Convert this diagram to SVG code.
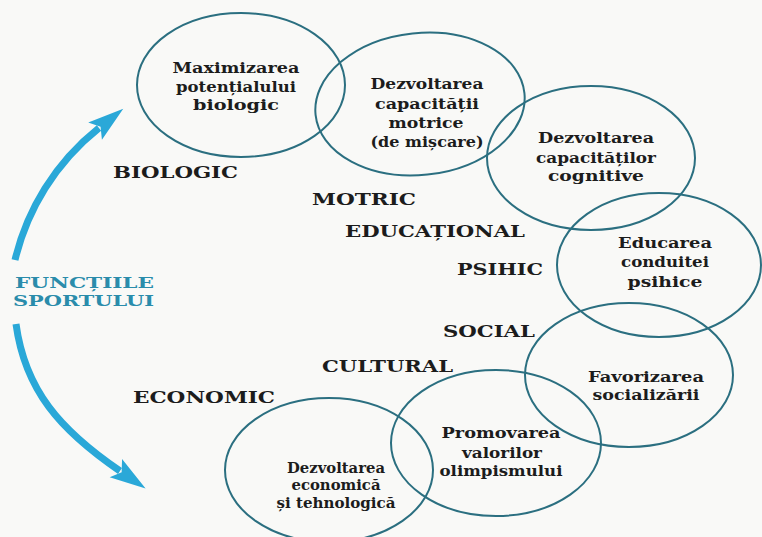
<svg xmlns="http://www.w3.org/2000/svg" width="762" height="537" viewBox="0 0 762 537">
<style>
.ell{fill:none;stroke:#2b6f80;stroke-width:2}
.t{font-family:"DejaVu Serif","Liberation Serif",serif;font-weight:bold;font-size:15px;fill:#1c1c1c;text-anchor:middle}
.lab{font-family:"DejaVu Serif","Liberation Serif",serif;font-weight:bold;font-size:16px;fill:#1c1c1c}
.title{font-family:"DejaVu Serif","Liberation Serif",serif;font-weight:bold;font-size:15px;fill:#2a8cab}
.arr{fill:none;stroke:#2aa8d8;stroke-width:7}
</style>
<defs>
<marker id="head" markerUnits="userSpaceOnUse" markerWidth="40" markerHeight="26" viewBox="-2 -13 40 26" refX="5" refY="0" orient="auto">
<path d="M0,-11 L36,0 L0,11 L7,0 z" fill="#2aa8d8"/>
</marker>
</defs>
<rect width="762" height="537" fill="#f9f9f7"/>

<g id="connectors">
<path class="arr" d="M15,260 C27,210 55,163 99,128" marker-end="url(#head)"/>
<path class="arr" d="M16,324 C25,390 60,430 120,471" marker-end="url(#head)"/>
</g>

<g id="title">
<text class="title" x="15" y="288" textLength="139" lengthAdjust="spacingAndGlyphs">FUNCȚIILE</text>
<text class="title" x="13" y="306" textLength="141" lengthAdjust="spacingAndGlyphs">SPORTULUI</text>
</g>

<g id="labels">
<text class="lab" x="113" y="178" textLength="125" lengthAdjust="spacingAndGlyphs">BIOLOGIC</text>
<text class="lab" x="312" y="205" textLength="104" lengthAdjust="spacingAndGlyphs">MOTRIC</text>
<text class="lab" x="345" y="237" textLength="180" lengthAdjust="spacingAndGlyphs">EDUCAȚIONAL</text>
<text class="lab" x="457" y="275" textLength="86" lengthAdjust="spacingAndGlyphs">PSIHIC</text>
<text class="lab" x="443" y="337" textLength="92" lengthAdjust="spacingAndGlyphs">SOCIAL</text>
<text class="lab" x="322" y="372" textLength="131" lengthAdjust="spacingAndGlyphs">CULTURAL</text>
<text class="lab" x="133" y="403" textLength="142" lengthAdjust="spacingAndGlyphs">ECONOMIC</text>
</g>

<g id="n1">
<ellipse class="ell" cx="241" cy="85" rx="104" ry="72"/>
<text class="t" x="236" y="73" textLength="127" lengthAdjust="spacingAndGlyphs">Maximizarea</text>
<text class="t" x="236" y="92" textLength="120" lengthAdjust="spacingAndGlyphs">potențialului</text>
<text class="t" x="236" y="110" textLength="86" lengthAdjust="spacingAndGlyphs">biologic</text>
</g>

<g id="n2">
<ellipse class="ell" cx="420" cy="104" rx="105" ry="71" transform="rotate(-6 420 104)"/>
<text class="t" x="427" y="89" textLength="113" lengthAdjust="spacingAndGlyphs">Dezvoltarea</text>
<text class="t" x="427" y="109" textLength="104" lengthAdjust="spacingAndGlyphs">capacității</text>
<text class="t" x="426" y="128" textLength="75" lengthAdjust="spacingAndGlyphs">motrice</text>
<text class="t" x="427" y="147" textLength="113" lengthAdjust="spacingAndGlyphs">(de mișcare)</text>
</g>

<g id="n3">
<ellipse class="ell" cx="591" cy="158" rx="104" ry="72"/>
<text class="t" x="596" y="143" textLength="116" lengthAdjust="spacingAndGlyphs">Dezvoltarea</text>
<text class="t" x="596" y="163" textLength="120" lengthAdjust="spacingAndGlyphs">capacităților</text>
<text class="t" x="596" y="181" textLength="96" lengthAdjust="spacingAndGlyphs">cognitive</text>
</g>

<g id="n4">
<ellipse class="ell" cx="659" cy="265" rx="102" ry="72"/>
<text class="t" x="665" y="248" textLength="94" lengthAdjust="spacingAndGlyphs">Educarea</text>
<text class="t" x="665" y="267" textLength="88" lengthAdjust="spacingAndGlyphs">conduitei</text>
<text class="t" x="665" y="287" textLength="75" lengthAdjust="spacingAndGlyphs">psihice</text>
</g>

<g id="n5">
<ellipse class="ell" cx="629" cy="375" rx="104" ry="72"/>
<text class="t" x="646" y="382" textLength="116" lengthAdjust="spacingAndGlyphs">Favorizarea</text>
<text class="t" x="646" y="400" textLength="107" lengthAdjust="spacingAndGlyphs">socializării</text>
</g>

<g id="n6">
<ellipse class="ell" cx="496" cy="443" rx="105" ry="73"/>
<text class="t" x="501" y="438" textLength="119" lengthAdjust="spacingAndGlyphs">Promovarea</text>
<text class="t" x="502" y="458" textLength="80" lengthAdjust="spacingAndGlyphs">valorilor</text>
<text class="t" x="501" y="476" textLength="123" lengthAdjust="spacingAndGlyphs">olimpismului</text>
</g>

<g id="n7">
<ellipse class="ell" cx="329" cy="470" rx="104" ry="72"/>
<text class="t" x="336" y="473" textLength="98" lengthAdjust="spacingAndGlyphs">Dezvoltarea</text>
<text class="t" x="336" y="490" textLength="89" lengthAdjust="spacingAndGlyphs">economică</text>
<text class="t" x="336" y="508" textLength="119" lengthAdjust="spacingAndGlyphs">și tehnologică</text>
</g>
</svg>
